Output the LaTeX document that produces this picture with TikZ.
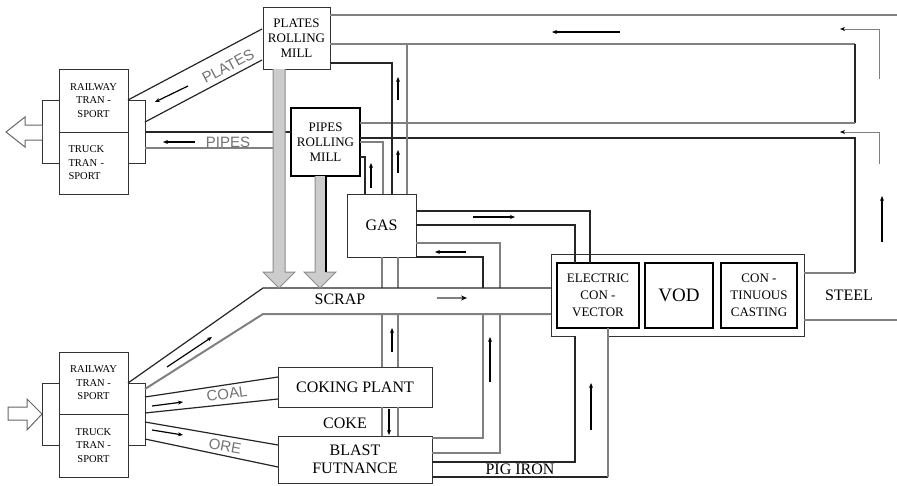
\documentclass[tikz,border=0pt]{standalone}
\usepackage{fontspec}
\setmainfont{Liberation Serif}
\newfontfamily\tagfont{Liberation Sans}
\usetikzlibrary{arrows.meta,positioning,calc}

\begin{document}
\begin{tikzpicture}[x=1pt, y=-1pt,
  box/.style={draw=black!80, line width=0.9pt, fill=white, inner sep=1pt, align=center},
  heavy/.style={box, draw=black, line width=2pt},
  small/.style={font=\fontsize{10.5}{13.5}\selectfont},
  mid/.style={font=\fontsize{13}{15}\selectfont},
  lbl/.style={font=\fontsize{16}{18}\selectfont},
  tag/.style={font=\tagfont\fontsize{15}{16}\selectfont, text=black!55, inner sep=0pt},
  gw/.style={draw=black!50, line width=2pt},
  bw/.style={draw=black!85, line width=1.2pt},
  flow/.style={-{Stealth[length=5pt, width=4pt]}, line width=1.2pt, black},
  gflow/.style={-{Stealth[length=5pt, width=4pt, color=black]}, line width=1pt, black!50},
  blockarr/.style={fill=black!20, draw=black!45, line width=1pt},
  hollow/.style={fill=white, draw=black!60, line width=1pt},
]
\useasboundingbox (0,0) rectangle (897,485);

% mills, gas and plants
\node[box, mid, minimum width=67pt, minimum height=62pt] (plates) at (296.5,38) {PLATES\\ROLLING\\MILL};
\node[heavy, mid, minimum width=69pt, minimum height=68pt] (pipes) at (325.5,142) {PIPES\\ROLLING\\MILL};
\node[box, lbl, minimum width=69pt, minimum height=63pt] (gas) at (381.5,225.5) {GAS};
\node[box, lbl, minimum width=154pt, minimum height=40pt] (coking) at (355,387) {COKING PLANT};
\node[box, lbl, minimum width=154pt, minimum height=47pt] (blast) at (355,459.5) {BLAST\\FUTNANCE};

% transport out
\draw[box] (42,100) rectangle (59,163);
\draw[box] (128,100) rectangle (145,163);
\node[box, small, minimum width=69pt, minimum height=63pt] (railout) at (93.5,100.5) {RAILWAY\\TRAN -\\SPORT};
\node[box, small, minimum width=69pt, minimum height=62pt, align=left, text width=50pt] (truckout) at (93.5,163) {TRUCK\\TRAN -\\SPORT};
\draw[hollow] (42,125) -- (25,125) -- (25,117) -- (6,132) -- (25,147) -- (25,140) -- (42,140);

% transport in
\draw[box] (42,383) rectangle (59,445);
\draw[box] (128,383) rectangle (145,445);
\node[box, small, minimum width=69pt, minimum height=62pt] (railin) at (93.5,383) {RAILWAY\\TRAN -\\SPORT};
\node[box, small, minimum width=69pt, minimum height=63pt] (truckin) at (93.5,445.5) {TRUCK\\TRAN -\\SPORT};
\draw[hollow] (8,407) -- (27,407) -- (27,399) -- (42,414) -- (27,430) -- (27,420) -- (8,420) -- cycle;

% steel plant
\draw[draw=black!80, line width=1pt] (575,336) -- (551,336) -- (551,254) -- (804,254) -- (804,336) -- (608,336);
\node[heavy, font=\fontsize{13}{17}\selectfont, minimum width=82pt, minimum height=65pt] (conv) at (598,295.5) {ELECTRIC\\CON -\\VECTOR};
\node[heavy, font=\fontsize{19}{21}\selectfont, minimum width=68pt, minimum height=65pt] (vod) at (679,295.5) {VOD};
\node[heavy, font=\fontsize{13}{17}\selectfont, minimum width=76pt, minimum height=65pt] (cast) at (759,295.5) {CON -\\TINUOUS\\CASTING};

% steel back to the mills
\draw[gw] (330,15) -- (897,15);
\draw[gw] (330,44) -- (855,44);
\draw[bw] (855,44) -- (855,123);
\draw[gw] (855,123) -- (360,123);
\draw[bw] (360,138) -- (855,138) -- (855,273);
\draw[gw] (855,273) -- (804,273);
\draw[gw] (804,320) -- (897,320);
\draw[flow] (620,32) -- (552,32);
\draw[gflow] (879,79) |- (840,29);
\draw[gflow] (879,164) |- (840,132);
\draw[flow] (882,242) -- (882,196);
\node[lbl] (steel) at (849,295) {STEEL};

% gas to the mills
\draw[bw] (330,63) -- (392,63) -- (392,194);
\draw[gw] (407,44) -- (407,194);
\draw[gw] (360,142) -- (383,142) -- (383,194);
\draw[bw] (360,157) -- (365,157) -- (365,194);
\draw[flow] (398,100) -- (398,77);
\draw[flow] (398,173) -- (398,150);
\draw[flow] (371,188) -- (371,163);

% gas to converter, furnace gas back
\draw[bw] (416,211) -- (590,211) -- (590,263);
\draw[bw] (416,225) -- (575,225) -- (575,263);
\draw[flow] (473,217) -- (515,217);
\draw[gw] (416,243) -- (500,243) -- (500,288);
\draw[bw] (416,257) -- (483,257) -- (483,288);
\draw[gw] (483,314) -- (483,438) -- (432,438);
\draw[gw] (500,314) -- (500,453) -- (432,453);
\draw[flow] (466,252) -- (435,252);
\draw[flow] (490,382) -- (490,337);

% coking plant gas and coke
\draw[gw] (382,257) -- (382,288);
\draw[gw] (398,257) -- (398,288);
\draw[gw] (382,314) -- (382,367);
\draw[gw] (398,314) -- (398,367);
\draw[gw] (382,407) -- (382,436);
\draw[gw] (398,407) -- (398,436);
\draw[flow] (392,352) -- (392,328);
\draw[flow] (389,409) -- (389,435);
\node[lbl] (coke) at (345,423) {COKE};

% pig iron
\draw[bw] (432,462) -- (575,462) -- (575,336);
\draw[bw] (432,477) -- (608,477);
\draw[gw] (608,477) -- (608,328);
\draw[flow] (591,430) -- (591,383);
\node[lbl] (pigiron) at (520,469) {PIG IRON};

% scrap
\draw[bw] (128,383) -- (263,288) -- (551,288);
\draw[gw] (145,389) -- (263,314) -- (551,314);
\draw[flow] (167,367) -- (212,337);
\draw[-{Stealth[length=6pt, width=5pt, color=black]}, line width=2.2pt, black!50] (437,298) -- (467,298);
\node[lbl] (scrap) at (340,299) {SCRAP};

% coal and ore
\draw[bw] (145,397) -- (278,377);
\draw[bw] (145,413) -- (278,399);
\draw[flow] (152,406) -- (183,402);
\node[tag, rotate=8] (coal) at (227,394) {COAL};
\draw[bw] (145,422) -- (278,445);
\draw[bw] (145,439) -- (278,467);
\draw[flow] (152,430) -- (183,435);
\node[tag, rotate=-10] (ore) at (225,446) {ORE};

% plates and pipes out
\draw[bw] (128,100) -- (262,29);
\draw[bw] (145,122) -- (262,60);
\draw[flow] (188,86) -- (155,102);
\node[tag, rotate=28] (platestag) at (228,66) {PLATES};
\draw[bw] (145,132) -- (291,132);
\draw[gw] (145,148) -- (273,148);
\draw[flow] (195,142) -- (163,142);
\node[tag] (pipestag) at (228,142) {PIPES};

% scrap from the mills
\draw[blockarr] (273,69) -- (273,272) -- (263,272) -- (279,288) -- (295,272) -- (285,272) -- (285,69);
\draw[blockarr] (315,176) -- (315,272) -- (304,272) -- (320,288) -- (336,272) -- (326,272) -- (326,176);
\draw[black, line width=1.4pt] (326,176) -- (326,272);
\end{tikzpicture}
\end{document}
